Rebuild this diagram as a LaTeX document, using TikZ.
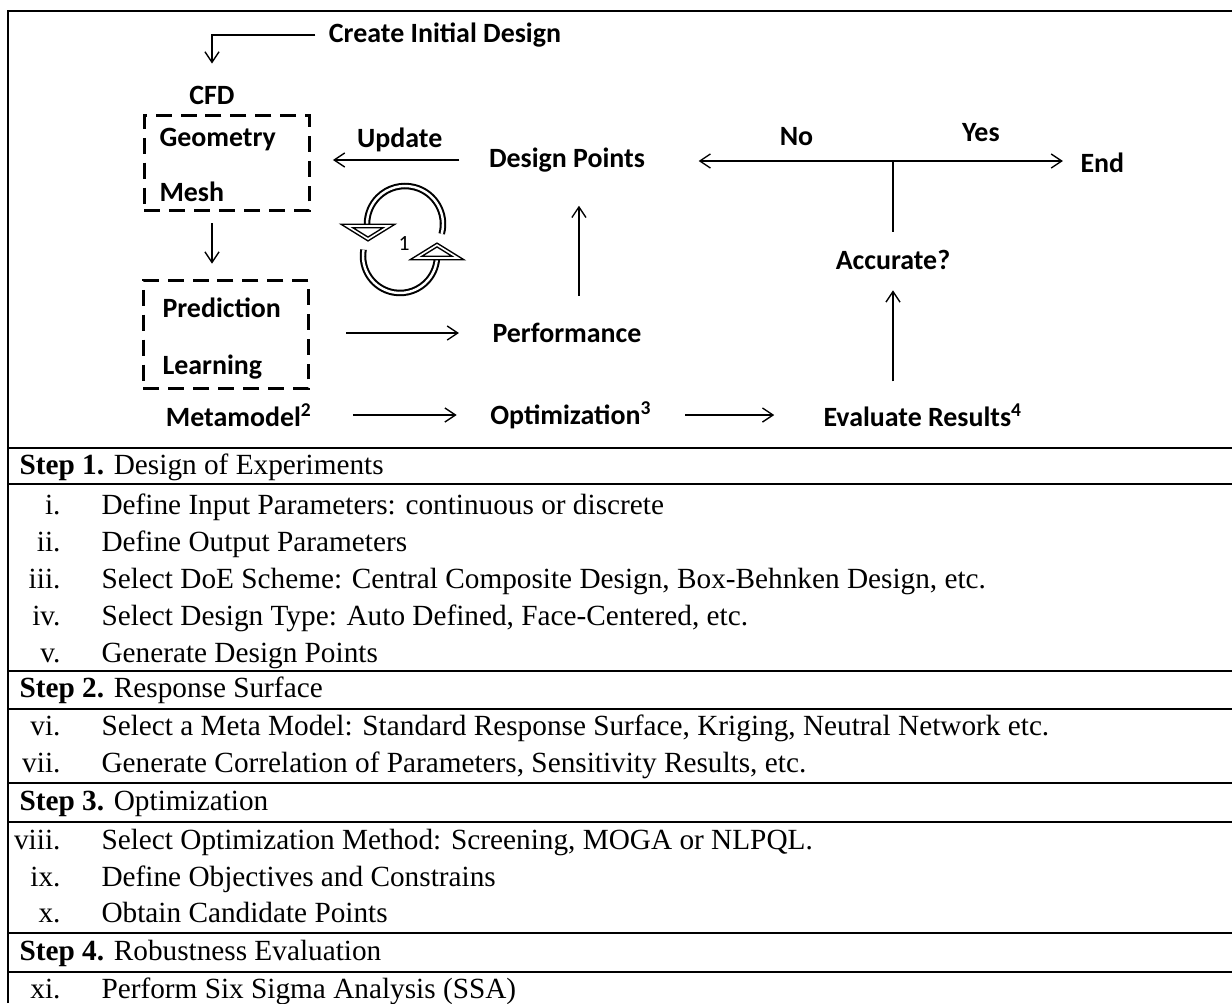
\documentclass[tikz,border=0pt]{standalone}
\usepackage{fontspec}
\setmainfont{Liberation Serif}
\newfontfamily\calibri{Carlito}
\usetikzlibrary{arrows.meta}

\begin{document}
\begin{tikzpicture}[x=0.369pt, y=-0.369pt, inner sep=0pt,
      font=\fontsize{10.8}{13}\selectfont,
      lbl/.style={font=\calibri\bfseries\fontsize{10.3}{12}\selectfont},
      dbox/.style={draw, line width=1.1pt, dash pattern=on 5.9pt off 3.3pt,
        minimum width=60.9pt},
      arr/.style={-{Straight Barb[length=3.9pt,width=5.2pt]}, line width=0.5pt},
      rule/.style={line width=0.8pt},
      cyc/.style={double, line width=0.75pt, double distance=0.9pt},
      head/.style={draw, double, fill=white, line width=0.55pt, double distance=0.6pt,
        line join=miter}]

      \useasboundingbox (0,0) rectangle (1232,1003);

      % frame and table rules
      \draw[rule] (8,1003) -- (8,11) -- (1232,11);
      \foreach \y in {448,484,671,709,783,822,933,972}
        \draw[rule] (8,\y) -- (1232,\y);

      % flow chart
      \node[lbl] (init) at (445,35) {Create Initial Design};
      \node[lbl] (cfd) at (212,95) {CFD};
      \node[dbox, minimum height=35.4pt] (geobox) at (227,163) {};
      \node[lbl, anchor=west] (geom) at (159,140) {Geometry};
      \node[lbl, anchor=west] (mesh) at (159,192) {Mesh};
      \node[dbox, minimum height=40.2pt] (metabox) at (226,334.5) {};
      \node[lbl, anchor=west] (pred) at (162,308) {Prediction};
      \node[lbl, anchor=west] (learn) at (162,367) {Learning};
      \node[lbl] (dpts) at (567,160) {Design Points};
      \node[lbl] (perf) at (567,333) {Performance};
      \node[lbl] (meta) at (239,415) {Metamodel\textsuperscript{2}};
      \node[lbl] (opt) at (571,415) {Optimization\textsuperscript{3}};
      \node[lbl] (eval) at (923,415) {Evaluate Results\textsuperscript{4}};
      \node[lbl] (acc) at (893,260) {Accurate?};
      \node[lbl, anchor=west] (endn) at (1080,163) {End};
      \coordinate (junc) at (893,161);

      \draw[arr, shorten <=4.8pt, shorten >=8pt] (init.west) -| (cfd.north);
      \draw[arr, shorten <=4pt, shorten >=5.5pt] (geobox.south -| cfd) -- (metabox.north -| cfd);
      \draw[arr, shorten <=10.7pt, shorten >=8.1pt] (dpts.west) -- (geobox.east |- dpts.west)
        node[lbl, midway, above=2.6pt] (upd) {Update};
      \draw[arr, shorten <=10pt, shorten >=12.2pt]
        ([xshift=4.4pt]perf.north) -- ([xshift=4.4pt]dpts.south);
      \draw[line width=0.5pt, shorten <=6.6pt] (acc.north) -- (junc);
      \draw[arr, shorten >=19.6pt] (junc) -- (dpts.east |- junc)
        node[lbl, pos=0.39, above=5.4pt] (no) {No};
      \draw[arr, shorten >=6.3pt] (junc) -- (endn.west |- junc)
        node[lbl, pos=0.47, above=6.8pt] (yes) {Yes};
      \draw[arr, shorten <=8pt, shorten >=7.4pt] (eval.north -| junc) -- (acc.south -| junc);
      \draw[arr, shorten <=12.2pt, shorten >=18pt] (opt.east) -- (eval.west);
      \draw[arr, shorten <=14.8pt, shorten >=12.2pt] (meta.east) -- (opt.west);
      \draw[arr, shorten <=13.3pt, shorten >=12.2pt] (metabox.east |- perf) -- (perf.west);

      % iteration symbol
      \draw[cyc] (405,224) ++(15:38) arc[start angle=15, end angle=-180, radius=38];
      \filldraw[head] (347,226) -- (389,226) -- (368,239) -- cycle;
      \draw[cyc] (400,256) ++(190:37) arc[start angle=190, end angle=0, radius=37];
      \filldraw[head] (416,258) -- (458,258) -- (437,245) -- cycle;
      \node[font=\calibri\fontsize{8}{9}\selectfont] (cnum) at (404,244) {1};

      % steps
      \node[anchor=base west] (s1) at (19,474) {\textbf{Step 1.} Design of Experiments};
      \node[anchor=base west] (s2) at (19,697) {\textbf{Step 2.} Response Surface};
      \node[anchor=base west] (s3) at (19,810) {\textbf{Step 3.} Optimization};
      \node[anchor=base west] (s4) at (19,960) {\textbf{Step 4.} Robustness Evaluation};
      \foreach \n/\t/\y in {i./{Define Input Parameters: continuous or discrete}/514,
          ii./{Define Output Parameters}/551,
          iii./{Select DoE Scheme: Central Composite Design, Box-Behnken Design, etc.}/588,
          iv./{Select Design Type: Auto Defined, Face-Centered, etc.}/625,
          v./{Generate Design Points}/662,
          vi./{Select a Meta Model: Standard Response Surface, Kriging, Neutral Network etc.}/735,
          vii./{Generate Correlation of Parameters, Sensitivity Results, etc.}/772,
          viii./{Select Optimization Method: Screening, MOGA or NLPQL.}/849,
          ix./{Define Objectives and Constrains}/886,
          x./{Obtain Candidate Points}/922,
          xi./{Perform Six Sigma Analysis (SSA)}/998}
      {
        \node[anchor=base east] (n\y) at (61,\y) {\n};
        \node[anchor=base west] (t\y) at (101,\y) {\t};
      }
    \end{tikzpicture}
\end{document}
